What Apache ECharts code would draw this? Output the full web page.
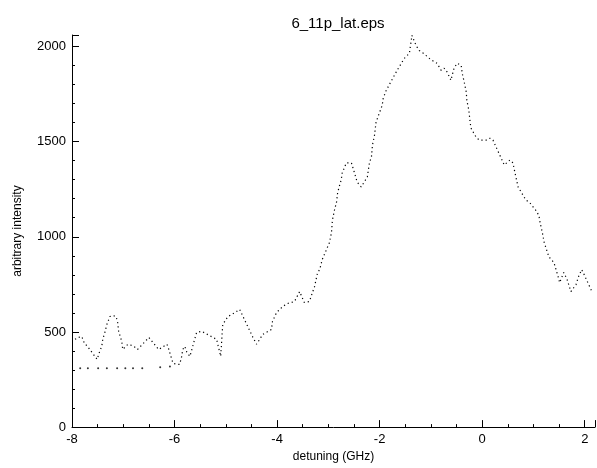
<!DOCTYPE html>
<html>
<head>
<meta charset="utf-8">
<script src="https://cdn.jsdelivr.net/npm/echarts@6/dist/echarts.min.js"></script>
<style>html,body{margin:0;padding:0;background:#fff;}#c{width:597px;height:468px;}</style>
</head>
<body>
<div id="c"></div>
<script>
// detuning (GHz) and intensity of the main trace
var detuning = [-7.94,-7.88,-7.81,-7.75,-7.71,-7.51,-7.46,-7.42,-7.40,-7.36,-7.32,-7.26,-7.20,-7.14,-7.11,-7.09,-7.03,-7.01,-6.91,-6.83,-6.77,-6.72,-6.50,-6.31,-6.15,-6.13,-6.03,-5.96,-5.90,-5.86,-5.84,-5.80,-5.76,-5.70,-5.57,-5.47,-5.18,-5.10,-5.06,-4.96,-4.88,-4.73,-4.48,-4.40,-4.28,-4.11,-4.09,-4.01,-3.89,-3.80,-3.72,-3.66,-3.56,-3.47,-3.37,-3.31,-3.27,-3.21,-3.17,-3.12,-2.98,-2.94,-2.92,-2.88,-2.84,-2.82,-2.79,-2.75,-2.73,-2.65,-2.55,-2.49,-2.44,-2.36,-2.34,-2.24,-2.20,-2.16,-2.14,-2.10,-2.07,-1.95,-1.93,-1.87,-1.66,-1.52,-1.42,-1.37,-1.29,-1.23,-1.17,-1.03,-0.98,-0.88,-0.80,-0.74,-0.68,-0.61,-0.55,-0.49,-0.41,-0.39,-0.35,-0.31,-0.30,-0.26,-0.24,-0.22,-0.12,-0.06,0.08,0.15,0.21,0.43,0.54,0.60,0.64,0.70,0.85,0.93,1.07,1.11,1.13,1.17,1.21,1.30,1.40,1.48,1.51,1.59,1.65,1.73,1.83,1.88,1.94,1.98,2.14];
var intensity = [461,471,476,435,429,356,398,424,461,497,539,581,586,581,550,503,450,408,435,429,419,408,471,408,435,424,335,330,330,372,408,424,393,372,497,503,461,372,539,581,592,618,476,435,487,513,555,602,634,649,655,660,712,655,660,707,738,812,827,880,969,1021,1089,1141,1183,1230,1262,1299,1335,1388,1388,1335,1288,1262,1272,1314,1388,1419,1482,1534,1602,1691,1728,1770,1874,1937,1964,2058,2005,1979,1969,1937,1927,1911,1874,1885,1864,1822,1885,1911,1901,1859,1812,1759,1717,1665,1613,1571,1524,1508,1508,1518,1508,1377,1403,1388,1335,1262,1194,1178,1131,1105,1073,1026,969,895,864,791,759,812,780,712,749,791,827,806,712];
// sparse baseline points
var baseDetuning = [-7.84,-7.69,-7.49,-7.32,-7.12,-6.96,-6.81,-6.63,-6.28,-6.09];
var baseIntensity = [309,309,309,309,309,309,309,309,314,319];
var xTicks = [-8,-6,-4,-2,0,2];
var yTicks = [0,500,1000,1500,2000];

function zip(a,b){var r=[];for(var i=0;i<a.length;i++)r.push([a[i],b[i]]);return r;}
var FONT = 'Liberation Sans';
var chart = echarts.init(document.getElementById('c'));
chart.setOption({
  animation:false,
  backgroundColor:'#fff',
  title:{text:'6_11p_lat.eps',left:333,top:11,textAlign:'center',
    textStyle:{fontFamily:FONT,fontSize:15,fontWeight:'normal',color:'#000'}},
  grid:{left:72,right:2,top:35,bottom:40},
  xAxis:{type:'value',min:-8,max:2.2,interval:2,
    name:'detuning (GHz)',nameLocation:'middle',nameGap:23,
    nameTextStyle:{fontFamily:FONT,fontSize:12,color:'#000'},
    axisLine:{onZero:false,lineStyle:{color:'#000',width:1}},
    axisTick:{inside:true,length:7,lineStyle:{color:'#000'}},
    minorTick:{show:true,splitNumber:4,length:3,lineStyle:{color:'#000'}},
    splitLine:{show:false},
    axisLabel:{showMaxLabel:false,fontFamily:FONT,fontSize:13,color:'#000',margin:6,
      formatter:function(v){return xTicks.indexOf(v)>=0?String(v):'';}}},
  yAxis:{type:'value',min:0,max:2060,interval:500,
    name:'arbitrary intensity',nameLocation:'middle',nameGap:48,
    nameTextStyle:{fontFamily:FONT,fontSize:12,color:'#000'},
    axisLine:{show:true,onZero:false,lineStyle:{color:'#000',width:1}},
    axisTick:{show:true,inside:true,length:7,lineStyle:{color:'#000'}},
    minorTick:{show:true,splitNumber:5,length:3,lineStyle:{color:'#000'}},
    splitLine:{show:false},
    axisLabel:{showMaxLabel:false,fontFamily:FONT,fontSize:13,color:'#000',margin:6,
      formatter:function(v){return yTicks.indexOf(v)>=0?String(v):'';}}},
  series:[
    {type:'line',data:zip(detuning,intensity),showSymbol:false,
      lineStyle:{color:'#000',width:1.2,type:[1.2,3]}},
    {type:'scatter',data:zip(baseDetuning,baseIntensity),symbolSize:2,
      itemStyle:{color:'#000'}}
  ]
});
</script>
</body>
</html>
